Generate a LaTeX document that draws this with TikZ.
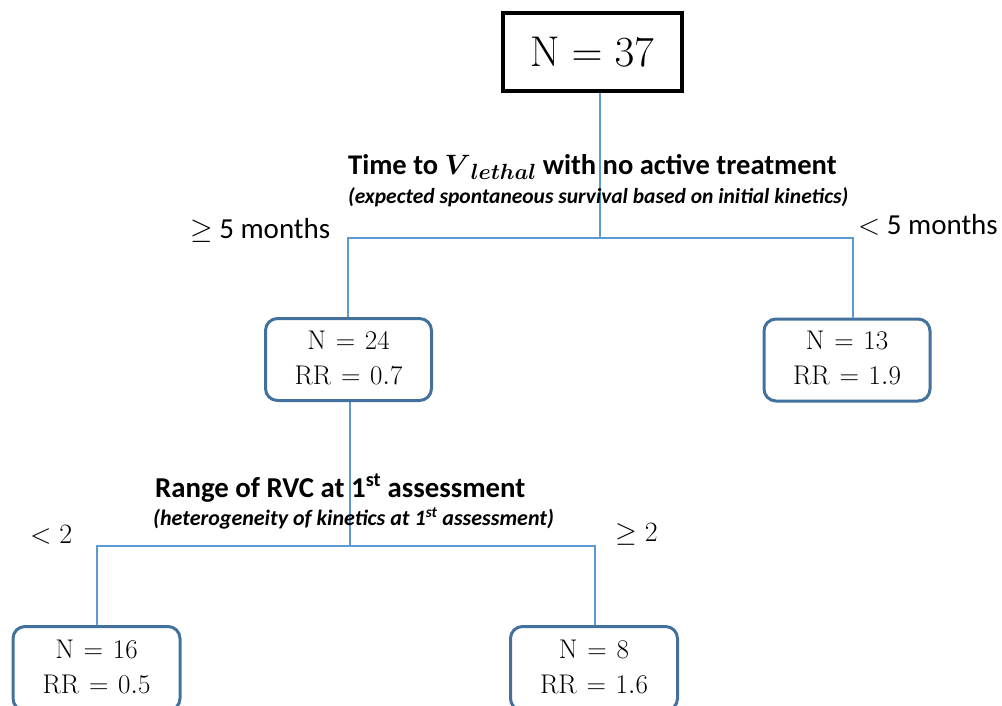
\RequirePackage{fix-cm}
\documentclass[tikz,border=0pt]{standalone}
\usepackage[no-math]{fontspec}
\usepackage{bm}
\setmainfont{Carlito}
\newcommand{\eqs}{\mskip1.5mu=\mskip1.5mu}
\begin{document}
\begin{tikzpicture}[x=1pt,y=-1pt,
  conn/.style={draw=lineblue,line width=2.2pt},
  leaf/.style={draw=boxblue,line width=3pt,rounded corners=12pt,fill=white,inner sep=0pt,font=\fontsize{27}{35}\selectfont},
  lbl/.style={inner sep=0pt,anchor=base west},
  ]
\definecolor{lineblue}{HTML}{5B9BD5}
\definecolor{boxblue}{HTML}{41719C}
\useasboundingbox (0,0) rectangle (1002,706);
% root
\node[draw=black,line width=4pt,minimum width=179pt,minimum height=78pt,inner sep=0pt] (root) at (592,52) {\fontsize{43}{50}\selectfont $\mathrm{N}=37$};
\node[leaf,minimum width=166pt,minimum height=82pt] (a) at (348.5,359.5) {\begin{tabular}{c}$\mathrm{N}\eqs24$\\$\mathrm{RR}\eqs0.7$\end{tabular}};
\node[leaf,minimum width=166pt,minimum height=82pt] (b) at (847,360) {\begin{tabular}{c}$\mathrm{N}\eqs13$\\$\mathrm{RR}\eqs1.9$\end{tabular}};
\node[leaf,minimum width=167pt,minimum height=84pt,anchor=north] (c) at (96.5,625) {\begin{tabular}{c}$\mathrm{N}\eqs16$\\$\mathrm{RR}\eqs0.5$\end{tabular}};
\node[leaf,minimum width=167pt,minimum height=84pt,anchor=north] (d) at (594,625) {\begin{tabular}{c}$\mathrm{N}\eqs8$\\$\mathrm{RR}\eqs1.6$\end{tabular}};
% connectors
\coordinate (s1) at (600,238);
\coordinate (s2) at (350,546);
\coordinate (ax) at (348,0);
\coordinate (bx) at (853,0);
\coordinate (cx) at (97,0);
\coordinate (dx) at (595,0);
\draw[conn] (root.south -| s1) -- (s1);
\draw[conn] (a.north -| ax) |- (s1) -| (b.north -| bx);
\draw[conn] (a.south -| s2) -- (s2);
\draw[conn] (c.north -| cx) |- (s2) -| (d.north -| dx);
% labels
\node[lbl] (t1) at (348,175) {\fontsize{28.5}{32}\selectfont\bfseries Time to {\fontsize{28}{32}\selectfont$\bm{V}$}\raisebox{-5pt}{\fontsize{22}{30}\selectfont$\bm{lethal}$} with no active treatment};
\node[lbl] (t1s) at (348,204) {\fontsize{21.5}{24}\selectfont\bfseries\itshape (expected spontaneous survival based on initial kinetics)};
\node[lbl] (g5) at (190,238) {\fontsize{29}{32}\selectfont $\geq$ 5 months};
\node[lbl] (l5) at (858,234) {\fontsize{29}{32}\selectfont $<$ 5 months};
\node[lbl] (t2) at (155,497) {\fontsize{28.8}{32}\selectfont\bfseries Range of RVC at 1\textsuperscript{st} assessment};
\node[lbl] (t2s) at (153,525) {\fontsize{22}{24}\selectfont\bfseries\itshape (heterogeneity of kinetics at 1\textsuperscript{st} assessment)};
\node[lbl] (l2) at (30,543) {\fontsize{28}{32}\selectfont $<2$};
\node[lbl] (g2) at (615,541) {\fontsize{28}{32}\selectfont $\geq 2$};
\end{tikzpicture}
\end{document}
